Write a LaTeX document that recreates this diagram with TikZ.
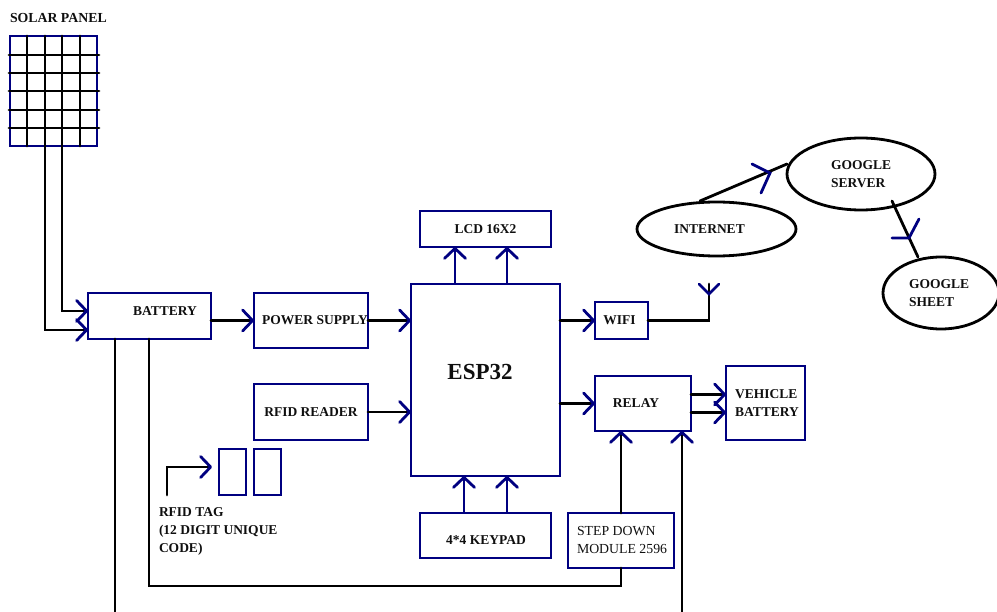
\documentclass[tikz,border=0pt]{standalone}
\usepackage{fontspec}
\setmainfont{Liberation Serif}
\usetikzlibrary{arrows.meta,shapes.geometric,calc}
\definecolor{navyc}{RGB}{0,0,128}
\definecolor{inkc}{RGB}{15,15,15}
\tikzset{
  box/.style={draw=navyc,line width=2.8pt,rectangle,outer sep=0pt,inner sep=0pt,text=inkc,font=\lab},
  oval/.style={draw=black,line width=2.8pt,ellipse,outer sep=0pt,inner sep=0pt},
  txt/.style={inner sep=0pt,outer sep=0pt,text=inkc,font=\lab,align=left},
  wire/.style={draw=black,line width=2.8pt,line cap=round},
  nwire/.style={draw=navyc,line width=2.8pt},
  chev/.style={draw=navyc,line width=2.8pt,line cap=round},
  tip/.style={-{Straight Barb[color=navyc,length=10pt,width=21pt,line width=2.8pt,round]}},
}
\newcommand{\lab}{\fontsize{13.5}{18}\selectfont\bfseries}
\begin{document}
\begin{tikzpicture}[x=1pt,y=-1pt]
\useasboundingbox (0,0) rectangle (997,612);
% solar panel
\node[txt,anchor=west,font=\fontsize{13.8}{18}\selectfont\bfseries] (solarlabel) at (10,18) {SOLAR PANEL};
\node[box,minimum width=87pt,minimum height=110pt] (solar) at (53.5,91) {};
\foreach \xx in {27,45,62,80}{\draw[wire] (\xx,36) -- (\xx,146);}
\foreach \yy in {55,73,91,110,128}{\draw[wire] (9,\yy) -- (99,\yy);}
% boxes
\node[box,minimum width=123pt,minimum height=46pt] (battery) at (149.5,316) {};
\node[txt] (batterylabel) at (165,311) {BATTERY};
\node[box,minimum width=114pt,minimum height=55pt] (power) at (311,320.5) {};
\node[txt] (powerlabel) at (315,320) {POWER SUPPLY};
\node[box,minimum width=114pt,minimum height=56pt] (reader) at (311,412) {RFID READER};
\node[box,minimum width=149pt,minimum height=192pt] (esp) at (485.5,380) {};
\node[txt,font=\fontsize{23}{26}\selectfont\bfseries] (esplabel) at (480,372) {ESP32};
\node[box,minimum width=131pt,minimum height=36pt] (lcd) at (485.5,229) {LCD 16X2};
\node[box,minimum width=131pt,minimum height=45pt] (keypad) at (485.5,535.5) {};
\node[txt] (keypadlabel) at (486,540) {4*4 KEYPAD};
\node[box,minimum width=53pt,minimum height=37pt] (wifi) at (621.5,320.5) {};
\node[txt] (wifilabel) at (619.5,320) {WIFI};
\node[box,minimum width=96pt,minimum height=55pt] (relay) at (643,403.5) {};
\node[txt] (relaylabel) at (636,403) {RELAY};
\node[box,minimum width=79pt,minimum height=74pt] (vehicle) at (765.5,403) {};
\node[txt,anchor=west] (vehiclelabel) at (735,403) {VEHICLE\\BATTERY};
\node[box,minimum width=106pt,minimum height=55pt] (step) at (621,540.5) {};
\node[txt,anchor=west,font=\fontsize{13.8}{18}\selectfont] (steplabel) at (577,540) {STEP DOWN\\MODULE 2596};
\node[box,minimum width=27pt,minimum height=46pt] (taga) at (232.5,472) {};
\node[box,minimum width=27pt,minimum height=46pt] (tagb) at (267.5,472) {};
\node[txt,anchor=west] (taglabel) at (159,531) {RFID TAG\\(12 DIGIT UNIQUE\\CODE)};
% ellipses
\node[oval,minimum width=159pt,minimum height=54pt] (internet) at (716.5,229) {};
\node[txt] (internetlabel) at (709.5,229) {INTERNET};
\node[oval,minimum width=148pt,minimum height=72pt] (server) at (861,174) {};
\node[txt,anchor=west] (serverlabel) at (831,174) {GOOGLE\\SERVER};
\node[oval,minimum width=116pt,minimum height=72pt] (sheet) at (941,293) {};
\node[txt,anchor=west] (sheetlabel) at (909,293) {GOOGLE\\SHEET};
% free ends
\coordinate (solarl) at (45,146);
\coordinate (solarr) at (62,146);
\coordinate (tagstart) at (167,495);
\coordinate (offl) at (115,612);
\coordinate (offr) at (682,612);
\coordinate (ant) at (709,284);
% connectors
\draw[wire,tip] (solarr) |- ([yshift=5pt]battery.west);
\draw[wire,tip] (solarl) |- ([yshift=-14pt]battery.west);
\draw[wire] (battery.south -| offl) -- (offl);
\draw[wire] (149,339) -- (149,586) -| (step.south);
\draw[wire,tip] ([yshift=-4.5pt]battery.east) -- (power.west);
\draw[wire,tip] (power.east) -- (power.east -| esp.west);
\draw[wire,tip] (reader.east) -- (reader.east -| esp.west);
\draw[wire,tip] (tagstart) |- (212,467);
\draw[nwire,tip] (455,284) -- (455,247);
\draw[nwire,tip] (507,284) -- (507,247);
\draw[nwire,tip] (464,513) -- (464,476);
\draw[nwire,tip] (507,513) -- (507,476);
\draw[wire,tip] (esp.east |- wifi.west) -- (wifi.west);
\draw[wire,tip] (esp.east |- relay.west) -- (relay.west);
\draw[wire] (wifi.east) -| (ant);
\draw[chev] (699,284) -- (709,294) -- (719,284);
\draw[wire,tip] ([yshift=9pt]relay.east) -- ([yshift=9pt]relay.east -| vehicle.west);
\draw[wire,tip] ([yshift=-9pt]relay.east) -- ([yshift=-9pt]relay.east -| vehicle.west);
\draw[wire,tip] (step.north) -- (step.north |- relay.south);
\draw[wire,tip] (offr) -- (offr |- relay.south);
\draw[wire] (700,201) -- (787,164);
\draw[chev] (752,164) -- (770,173) -- (761,193);
\draw[wire] (892,201) -- (918,257);
\draw[chev] (919,219) -- (909,238) -- (892,238);
\end{tikzpicture}
\end{document}
